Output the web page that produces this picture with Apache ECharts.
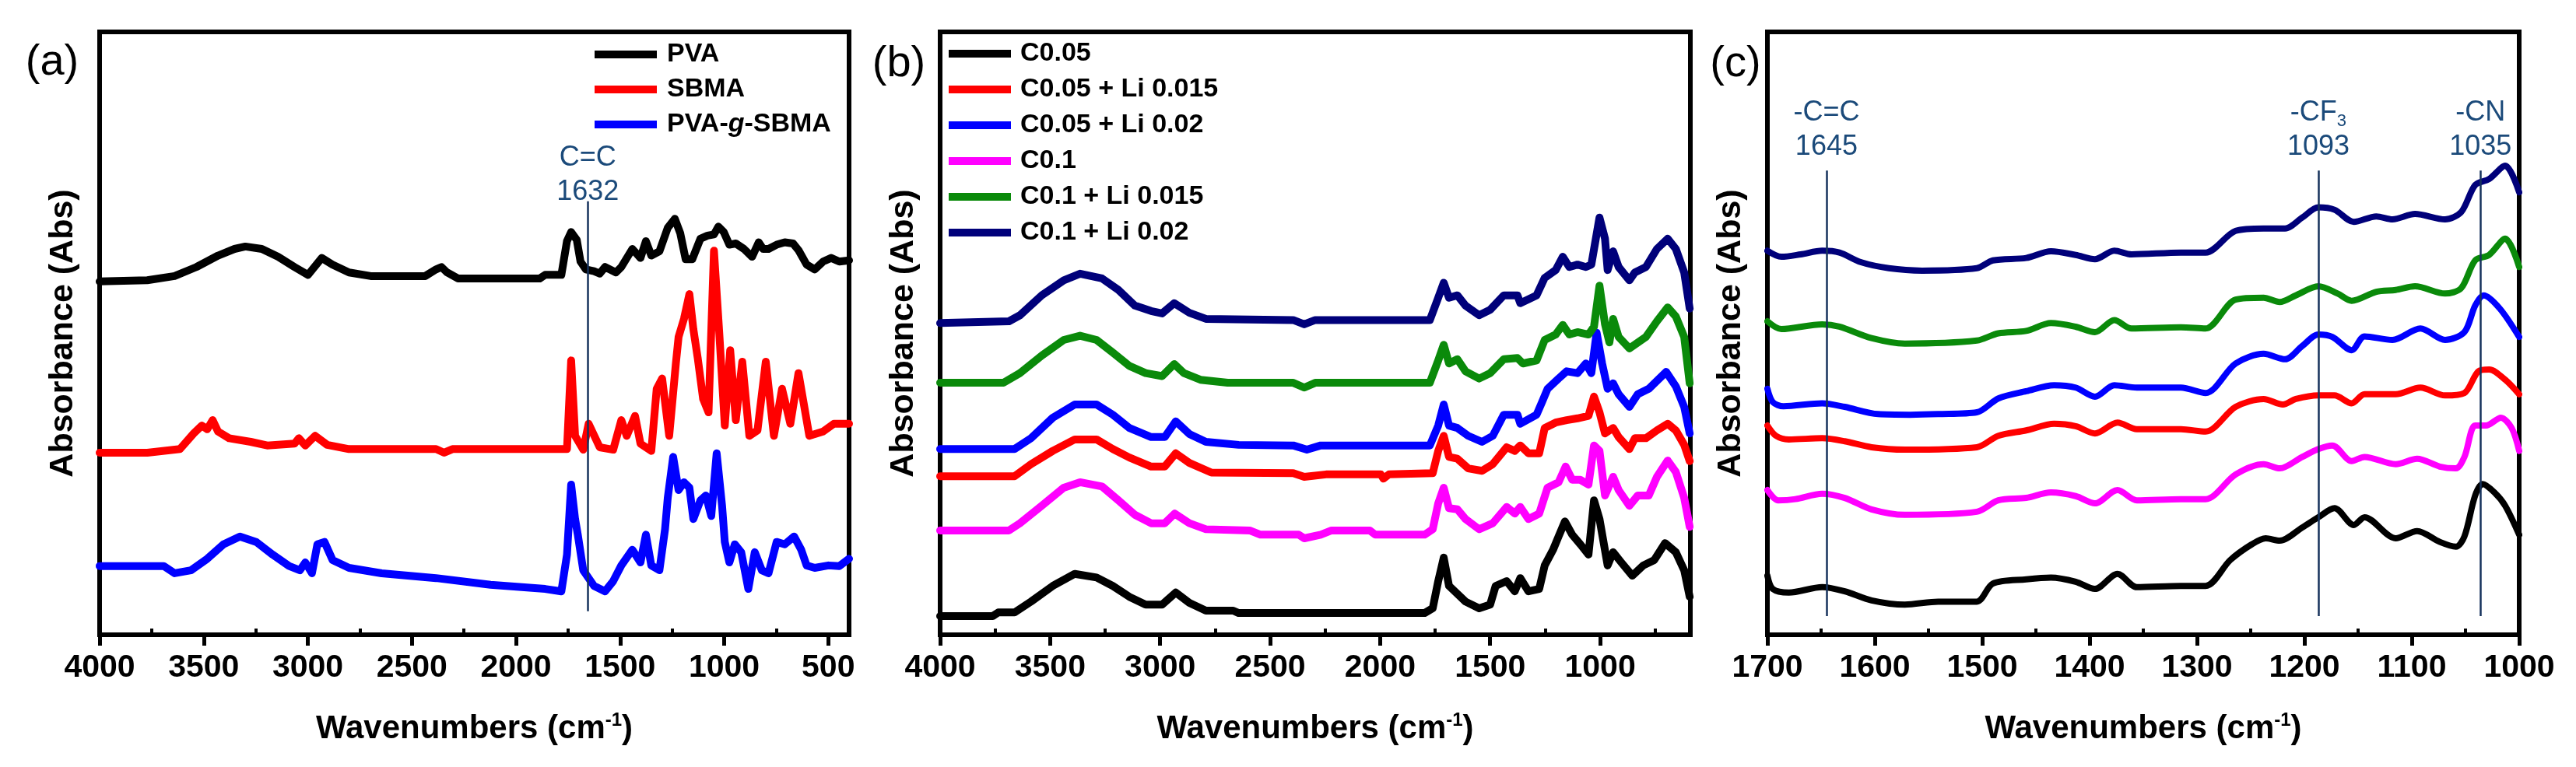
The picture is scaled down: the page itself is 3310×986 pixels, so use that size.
<!DOCTYPE html>
<html><head><meta charset="utf-8">
<script src="https://cdn.jsdelivr.net/npm/echarts@6/dist/echarts.min.js"></script>
<style>html,body{margin:0;padding:0;background:#fff}#c{width:3310px;height:986px}</style>
</head><body><div id="c"></div>
<script>
// ---- tick values ----
const ticksA = [4000,3500,3000,2500,2000,1500,1000,500];
const minorA = [3750,3250,2750,2250,1750,1250,750];
const ticksB = [4000,3500,3000,2500,2000,1500,1000];
const minorB = [3750,3250,2750,2250,1750,1250,750];
const ticksC = [1700,1600,1500,1400,1300,1200,1100,1000];
const minorC = [1650,1550,1450,1350,1250,1150,1050];

// ---- panel (a) ----
const namesA = ['PVA','SBMA','PVA-g-SBMA'];
const pvaA = [[4000,58.6],[3771,58.8],[3640,59.5],[3535,61.0],[3431,62.9],[3352,64.0],[3300,64.4],[3221,64.0],[3143,62.7],[3064,61.0],[2999,59.7],[2933,62.5],[2881,61.4],[2802,60.1],[2698,59.5],[2436,59.5],[2384,60.6],[2358,61.0],[2331,60.1],[2279,59.1],[1886,59.1],[1860,59.7],[1782,59.7],[1755,65.3],[1735,66.8],[1708,65.5],[1690,61.9],[1664,60.6],[1625,60.3],[1598,59.9],[1572,61.0],[1520,60.1],[1494,61.0],[1441,64.0],[1402,62.5],[1376,65.3],[1350,62.9],[1311,63.6],[1271,67.5],[1237,69.0],[1211,66.6],[1185,62.3],[1153,62.3],[1114,65.7],[1080,66.2],[1049,66.4],[1028,67.7],[1002,66.8],[975,64.7],[944,64.9],[905,64.0],[866,62.7],[834,65.1],[813,64.0],[787,64.0],[748,64.7],[709,65.1],[669,64.9],[643,63.8],[604,61.4],[565,60.6],[525,61.9],[486,62.5],[447,61.9],[400,62.1]];
const sbmaA = [[4000,30.2],[3771,30.2],[3614,30.8],[3548,33.4],[3509,34.7],[3483,34.1],[3457,35.6],[3431,33.7],[3378,32.6],[3274,32.0],[3195,31.4],[3064,31.7],[3043,32.6],[3012,31.4],[2965,33.0],[2907,31.5],[2802,30.8],[2384,30.8],[2345,30.2],[2305,30.8],[1755,30.8],[1735,45.5],[1716,33.0],[1677,30.7],[1651,35.0],[1598,31.1],[1533,30.7],[1494,35.6],[1468,33.0],[1428,36.3],[1402,31.7],[1350,30.5],[1324,40.8],[1298,42.5],[1264,33.0],[1232,45.0],[1219,49.4],[1193,52.4],[1167,56.5],[1148,50.7],[1127,45.9],[1101,39.1],[1075,36.9],[1049,63.7],[1023,49.8],[997,34.7],[971,47.2],[944,35.6],[913,45.3],[879,33.0],[840,33.9],[800,45.3],[761,33.0],[722,40.8],[682,35.0],[643,43.4],[617,38.2],[591,33.0],[525,33.7],[473,35.0],[400,35.0]];
const pvagA = [[4000,11.4],[3692,11.4],[3640,10.2],[3561,10.7],[3483,12.6],[3405,15.0],[3326,16.3],[3248,15.4],[3169,13.3],[3090,11.4],[3038,10.7],[3012,12.0],[2980,10.2],[2954,15.0],[2920,15.4],[2881,12.4],[2802,11.1],[2645,10.2],[2384,9.4],[2122,8.3],[1860,7.6],[1782,7.2],[1755,13.3],[1735,24.9],[1716,19.2],[1703,16.6],[1677,10.7],[1625,8.1],[1572,7.2],[1533,8.9],[1494,11.5],[1441,14.1],[1402,12.0],[1376,16.6],[1350,11.5],[1311,10.7],[1284,17.5],[1271,22.7],[1245,29.5],[1219,24.0],[1193,25.3],[1167,24.4],[1148,19.2],[1114,22.3],[1088,23.1],[1062,19.7],[1036,30.1],[1010,21.4],[997,15.4],[975,12.0],[949,15.0],[918,13.7],[884,7.6],[853,13.7],[819,10.7],[787,10.2],[748,15.4],[709,15.0],[664,16.3],[630,14.1],[604,11.5],[565,11.1],[499,11.5],[447,11.4],[400,12.6]];

// ---- panel (b) ----
const namesB = ['C0.05','C0.05 + Li 0.015','C0.05 + Li 0.02','C0.1','C0.1 + Li 0.015','C0.1 + Li 0.02'];
const c005B = [[4000,3.1],[3761,3.1],[3736,3.7],[3662,3.7],[3587,5.5],[3488,8.1],[3388,10.1],[3289,9.5],[3215,8.1],[3140,6.3],[3066,5.0],[2991,5.0],[2929,7.0],[2867,5.3],[2792,4.0],[2668,4.0],[2643,3.6],[1798,3.6],[1761,4.4],[1736,8.9],[1711,12.8],[1687,8.1],[1649,6.8],[1612,5.5],[1550,4.4],[1500,5.0],[1475,8.1],[1425,8.9],[1388,7.2],[1363,9.4],[1326,7.2],[1277,7.6],[1252,11.5],[1214,14.1],[1189,16.3],[1160,18.8],[1127,16.6],[1090,15.0],[1053,13.3],[1028,22.3],[1003,19.2],[966,11.5],[941,13.7],[904,12.0],[854,9.8],[804,11.5],[754,12.4],[705,15.2],[656,13.7],[618,10.7],[593,6.3]];
const c005Li015B = [[4000,26.3],[3662,26.3],[3587,28.3],[3488,30.5],[3388,32.4],[3289,32.4],[3215,30.8],[3140,29.4],[3041,27.9],[2979,27.9],[2929,30.1],[2867,28.5],[2767,26.9],[2395,26.8],[2345,26.2],[2246,26.6],[1997,26.6],[1985,25.9],[1960,26.6],[1761,26.8],[1736,30.5],[1711,33.0],[1687,29.5],[1649,29.2],[1600,27.6],[1537,27.2],[1488,28.3],[1425,31.1],[1388,30.5],[1363,31.4],[1326,30.1],[1277,30.1],[1252,34.3],[1202,35.2],[1152,35.6],[1103,35.9],[1053,36.3],[1028,39.5],[1003,36.9],[978,33.4],[941,34.3],[916,32.8],[867,30.8],[842,32.6],[792,32.6],[742,33.9],[693,35.0],[656,33.9],[618,31.5],[593,28.8]];
const c005Li02B = [[4000,30.8],[3662,30.8],[3587,32.6],[3488,36.0],[3388,38.2],[3289,38.2],[3215,36.5],[3140,34.3],[3041,32.8],[2979,32.8],[2929,35.4],[2867,33.3],[2792,32.0],[2643,31.5],[2395,31.4],[2333,30.7],[2270,31.4],[1774,31.4],[1736,34.7],[1711,38.2],[1687,34.7],[1649,34.3],[1600,33.0],[1537,32.0],[1488,33.0],[1438,36.5],[1376,36.5],[1363,35.0],[1289,36.5],[1264,38.6],[1239,40.8],[1189,42.5],[1152,43.7],[1103,43.4],[1065,45.0],[1040,43.4],[1016,50.1],[991,45.0],[966,40.8],[941,41.7],[916,39.9],[867,37.8],[829,39.9],[779,40.8],[742,42.1],[700,43.6],[656,41.2],[618,37.8],[593,33.4]];
const c01B = [[4000,17.3],[3687,17.3],[3637,18.5],[3538,21.4],[3438,24.4],[3364,25.3],[3264,24.6],[3190,22.3],[3115,19.9],[3041,18.5],[2979,18.5],[2934,20.1],[2867,18.5],[2792,17.5],[2593,17.3],[2544,16.6],[2370,16.6],[2345,16.0],[2270,16.6],[2221,17.3],[2047,17.3],[2022,16.6],[1798,16.6],[1761,17.5],[1736,21.8],[1711,24.4],[1687,21.0],[1649,20.8],[1612,19.2],[1550,17.5],[1488,18.5],[1425,21.2],[1388,20.1],[1363,21.2],[1326,19.2],[1277,20.1],[1239,24.4],[1189,25.3],[1157,27.9],[1127,25.7],[1090,25.7],[1053,24.9],[1028,31.4],[1003,30.5],[978,23.1],[941,26.2],[916,24.0],[867,21.4],[829,23.1],[779,23.1],[742,26.2],[693,28.9],[656,27.0],[618,22.7],[593,17.9]];
const c01Li015B = [[4000,41.8],[3712,41.8],[3637,43.4],[3538,46.3],[3438,48.9],[3364,49.6],[3289,48.9],[3215,46.8],[3140,44.6],[3066,43.4],[2991,42.9],[2936,44.9],[2892,43.4],[2817,42.3],[2693,41.8],[2395,41.8],[2345,41.0],[2295,41.8],[1774,41.8],[1736,45.5],[1711,48.1],[1687,45.0],[1649,45.7],[1612,43.7],[1550,42.5],[1500,43.4],[1438,45.7],[1376,45.9],[1351,45.0],[1289,45.5],[1252,48.9],[1202,49.8],[1170,51.4],[1140,49.8],[1103,50.2],[1053,49.8],[1028,51.1],[1003,57.9],[978,51.5],[958,48.5],[941,52.4],[916,49.4],[867,47.5],[792,49.4],[742,52.0],[693,54.3],[656,52.8],[618,49.4],[593,41.7]];
const c01Li02B = [[4000,51.7],[3687,52.0],[3637,53.0],[3538,56.3],[3438,58.8],[3364,59.9],[3264,59.1],[3190,57.2],[3115,54.6],[3041,53.7],[2991,53.3],[2936,55.0],[2867,53.4],[2792,52.4],[2395,52.2],[2345,51.5],[2295,52.2],[1774,52.2],[1736,55.9],[1711,58.4],[1687,55.9],[1649,56.3],[1612,54.6],[1550,53.0],[1500,53.9],[1438,56.3],[1376,56.3],[1363,55.0],[1289,56.3],[1252,59.2],[1202,60.5],[1170,62.7],[1140,61.0],[1103,61.4],[1065,61.0],[1040,61.4],[1003,69.2],[978,65.7],[966,60.5],[941,63.6],[916,61.0],[867,58.8],[842,60.1],[792,61.0],[742,64.0],[693,65.7],[656,64.0],[618,60.1],[593,54.1]];

// ---- panel (c) ----
const c005C = [[1700,9.8],[1695,7.6],[1680,7.0],[1649,7.9],[1628,7.2],[1603,5.7],[1572,5.0],[1541,5.5],[1505,5.5],[1490,8.5],[1459,9.2],[1436,9.5],[1413,8.8],[1395,7.6],[1374,10.1],[1356,7.9],[1315,8.1],[1292,8.1],[1269,12.4],[1249,15.0],[1236,16.0],[1223,15.6],[1202,17.8],[1187,19.5],[1172,21.0],[1154,18.2],[1144,19.5],[1115,16.0],[1095,17.2],[1074,15.4],[1059,14.6],[1051,16.3],[1041,23.1],[1034,25.0],[1023,23.6],[1013,21.4],[1000,16.6]];
const c005Li015C = [[1700,34.7],[1692,33.0],[1680,32.4],[1649,32.6],[1628,32.1],[1603,31.1],[1572,30.7],[1505,31.1],[1485,33.0],[1459,33.9],[1433,35.0],[1413,34.6],[1395,33.4],[1374,35.2],[1356,34.1],[1315,34.1],[1292,33.7],[1264,37.8],[1238,39.1],[1220,38.2],[1208,39.1],[1187,39.7],[1172,39.7],[1156,38.4],[1144,39.9],[1115,39.9],[1092,41.0],[1069,39.7],[1051,40.1],[1038,43.7],[1028,44.0],[1013,42.3],[1000,39.9]];
const c005Li02C = [[1700,40.8],[1695,38.6],[1685,37.9],[1649,38.4],[1628,37.8],[1597,36.6],[1567,36.5],[1541,36.6],[1505,36.9],[1485,39.2],[1459,40.4],[1433,41.4],[1413,41.0],[1395,39.5],[1377,41.4],[1356,41.0],[1315,41.0],[1292,40.1],[1264,45.0],[1238,46.6],[1218,45.7],[1202,47.9],[1187,49.8],[1174,49.4],[1156,47.2],[1144,49.5],[1118,48.9],[1092,50.8],[1069,48.9],[1051,50.2],[1041,54.6],[1033,56.3],[1018,54.1],[1000,49.4]];
const c01C = [[1700,24.0],[1690,22.3],[1674,22.5],[1649,23.4],[1628,22.7],[1603,20.8],[1572,19.9],[1505,20.4],[1485,22.3],[1459,22.7],[1436,23.6],[1413,23.0],[1395,21.8],[1374,24.0],[1356,22.3],[1315,22.5],[1292,22.5],[1264,26.6],[1238,28.3],[1223,27.6],[1202,29.5],[1187,30.8],[1174,31.4],[1156,28.8],[1144,29.5],[1115,28.3],[1095,29.2],[1074,27.9],[1059,27.6],[1051,29.5],[1041,34.7],[1031,34.7],[1017,36.0],[1007,34.3],[1000,30.5]];
const c01Li015C = [[1700,52.0],[1687,50.7],[1649,51.5],[1633,51.1],[1603,49.2],[1572,48.3],[1505,48.8],[1485,50.0],[1459,50.4],[1436,51.7],[1413,51.1],[1395,50.2],[1377,52.2],[1361,50.8],[1315,51.0],[1292,50.8],[1264,55.6],[1238,55.9],[1223,55.2],[1208,56.3],[1187,57.8],[1169,56.6],[1156,55.4],[1133,56.9],[1115,57.2],[1097,57.8],[1069,56.6],[1054,57.5],[1041,62.1],[1028,63.0],[1013,65.7],[1000,61.0]];
const c01Li02C = [[1700,63.7],[1687,62.7],[1669,63.1],[1649,63.7],[1633,63.4],[1613,61.8],[1587,60.8],[1556,60.4],[1505,60.8],[1490,62.1],[1459,62.5],[1436,63.6],[1413,63.0],[1395,62.3],[1377,63.7],[1361,63.1],[1315,63.4],[1292,63.4],[1264,67.0],[1238,67.4],[1218,67.4],[1202,69.2],[1187,70.9],[1172,70.5],[1154,68.5],[1133,69.4],[1118,68.9],[1097,69.8],[1069,68.9],[1054,70.1],[1041,74.6],[1028,75.6],[1013,77.8],[1000,73.4]];

// ---- annotations: [line position, bottom, top, label lines] ----
const annA = [[1655, 3.9, 71.9, '{t|C=C}\n{t|1632}']];
const annC = [[1645, 3.1, 77.0, '{t|-C=C}\n{t|1645}'],[1187, 3.1, 77.0, '{t|-CF}{s|3}\n{t|1093}'],[1036, 3.1, 77.0, '{t|-CN}\n{t|1035}']];

const colorsB = ['#000000','#ff0000','#0000ff','#ff00ff','#0a8a0a','#00007a'];
const colorsA = ['#000000','#ff0000','#0000ff'];

const AX = 'Liberation Sans';
const tickFont = {fontFamily:AX, fontWeight:'bold', fontSize:41, color:'#000'};
const xName = '{n|Wavenumbers (cm}{s|-1}{n|)}';
const xNameStyle = {rich:{
  n:{fontFamily:AX, fontWeight:'bold', fontSize:42, color:'#000', lineHeight:46},
  s:{fontFamily:AX, fontWeight:'bold', fontSize:24, color:'#000', lineHeight:24, verticalAlign:'top'}
}};

function xAxes(gi, min, max, major, minor){
  return [{
    type:'value', gridIndex:gi, min:min, max:max, inverse:true, position:'bottom',
    axisLine:{show:true, onZero:false, lineStyle:{color:'#000', width:6}},
    axisTick:{show:true, inside:false, length:14, lineStyle:{color:'#000', width:5}, customValues:major},
    axisLabel:Object.assign({show:true, margin:22, customValues:major, formatter:v => String(v)}, tickFont),
    splitLine:{show:false},
    name:xName, nameLocation:'middle', nameGap:98, nameTextStyle:xNameStyle
  },{
    type:'value', gridIndex:gi, min:min, max:max, inverse:true, position:'bottom',
    axisLine:{show:false}, axisLabel:{show:false}, splitLine:{show:false},
    axisTick:{show:true, inside:true, length:8, lineStyle:{color:'#000', width:4}, customValues:minor}
  }];
}
function yAxis(gi){
  return {type:'value', gridIndex:gi, min:0, max:100,
    axisLine:{show:false}, axisTick:{show:false}, axisLabel:{show:false}, splitLine:{show:false},
    name:'Absorbance (Abs)', nameLocation:'middle', nameRotate:90, nameGap:25,
    nameTextStyle:{fontFamily:AX, fontWeight:'bold', fontSize:43, color:'#000'}};
}
function line(name, data, color, xi, yi, w, smooth){
  return {type:'line', name:name, data:data, xAxisIndex:xi, yAxisIndex:yi,
    showSymbol:false, symbol:'none', smooth:smooth||false, clip:true,
    lineStyle:{color:color, width:w, cap:'round', join:'round'}, itemStyle:{color:color},
    emphasis:{disabled:true}, z:3};
}
function marks(ann, dist){
  return {symbol:['none','none'], silent:true, animation:false, z:5,
    lineStyle:{color:'#16325c', width:2.5, type:'solid'},
    label:{show:true, position:'end', distance:dist, color:'#1b4a7a',
      rich:{t:{fontFamily:AX, fontSize:36, lineHeight:44, color:'#1b4a7a', align:'center'},
            s:{fontFamily:AX, fontSize:22, lineHeight:30, color:'#1b4a7a', verticalAlign:'bottom'}}},
    data: ann.map(a => [{coord:[a[0], a[1]], label:{formatter:a[3]}}, {coord:[a[0], a[2]]}])
  };
}

const legendText = {fontFamily:AX, fontWeight:'bold', fontSize:34, color:'#000', lineHeight:36,
  rich:{b:{fontFamily:AX, fontWeight:'bold', fontSize:34, color:'#000', lineHeight:36},
        i:{fontFamily:AX, fontWeight:'bold', fontStyle:'italic', fontSize:34, color:'#000', lineHeight:36}}};

const seriesA = [
  line(namesA[0], pvaA, colorsA[0], 0, 0, 10),
  line(namesA[1], sbmaA, colorsA[1], 0, 0, 10),
  line(namesA[2], pvagA, colorsA[2], 0, 0, 10)
];
seriesA[0].markLine = marks(annA, -10);

const dataB = [c005B, c005Li015B, c005Li02B, c01B, c01Li015B, c01Li02B];
const dataC = [c005C, c005Li015C, c005Li02C, c01C, c01Li015C, c01Li02C];
const seriesB = dataB.map((d,i) => line(namesB[i], d, colorsB[i], 2, 1, 10));
const seriesC = dataC.map((d,i) => line(namesB[i], d, colorsB[i], 4, 2, 8, 0.3));
seriesC[0].markLine = marks(annC, 8);

const option = {
  animation:false,
  backgroundColor:'#fff',
  grid:[
    {left:128, top:41, width:963, height:775, show:true, borderColor:'#000', borderWidth:6, containLabel:false},
    {left:1208, top:41, width:964, height:775, show:true, borderColor:'#000', borderWidth:6, containLabel:false},
    {left:2271, top:41, width:966, height:775, show:true, borderColor:'#000', borderWidth:6, containLabel:false}
  ],
  xAxis:[].concat(xAxes(0, 400, 4000, ticksA, minorA), xAxes(1, 590, 4000, ticksB, minorB), xAxes(2, 1000, 1700, ticksC, minorC)),
  yAxis:[yAxis(0), yAxis(1), yAxis(2)],
  legend:[
    {data:namesA, orient:'vertical', left:764, top:52, itemWidth:80, itemHeight:10, itemGap:9, icon:'rect', padding:0,
     selectedMode:false, textStyle:Object.assign({padding:[0,0,0,8]}, legendText),
     formatter:n => n==='PVA-g-SBMA' ? '{b|PVA-}{i|g}{b|-SBMA}' : n},
    {data:namesB, orient:'vertical', left:1219, top:51, itemWidth:80, itemHeight:10, itemGap:10, icon:'rect', padding:0,
     selectedMode:false, textStyle:Object.assign({padding:[0,0,0,7]}, legendText)}
  ],
  graphic:[
    {type:'text', style:{text:'(a)', x:67, y:81, align:'center', verticalAlign:'middle', font:'56px "Liberation Sans"', fill:'#000'}},
    {type:'text', style:{text:'(b)', x:1155, y:83, align:'center', verticalAlign:'middle', font:'56px "Liberation Sans"', fill:'#000'}},
    {type:'text', style:{text:'(c)', x:2230, y:83, align:'center', verticalAlign:'middle', font:'56px "Liberation Sans"', fill:'#000'}}
  ],
  series:[].concat(seriesA, seriesB, seriesC)
};
const chart = echarts.init(document.getElementById('c'), null, {renderer:'canvas'});
chart.setOption(option);
</script></body></html>
